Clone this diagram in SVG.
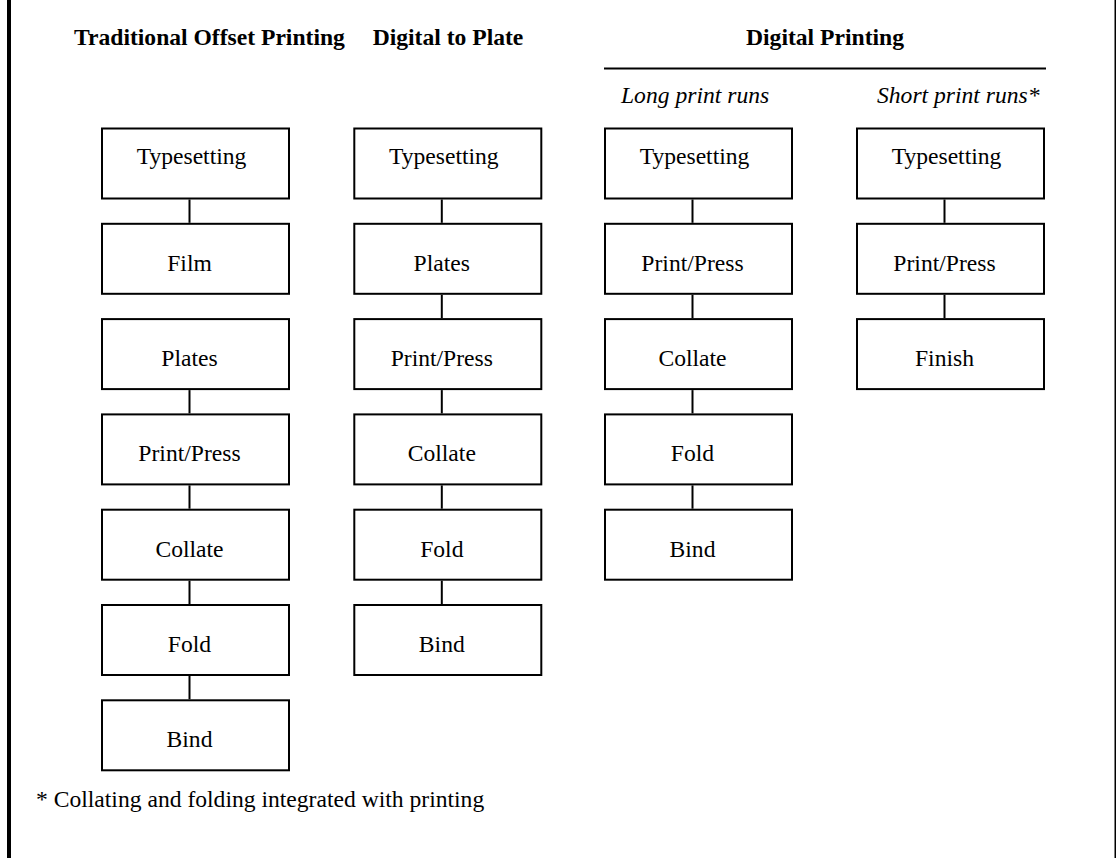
<svg xmlns="http://www.w3.org/2000/svg" width="1116" height="858" viewBox="0 0 1116 858">
  <style>
    .box { fill: #ffffff; stroke: #000000; stroke-width: 2; }
    .lbl { font-family: "Liberation Serif", "Times New Roman", serif; font-size: 23.6px; fill: #000000; text-anchor: middle; }
    .head { font-family: "Liberation Serif", "Times New Roman", serif; font-size: 23.6px; font-weight: bold; fill: #000000; }
    .sub { font-family: "Liberation Serif", "Times New Roman", serif; font-size: 23.6px; font-style: italic; fill: #000000; }
    .note { font-family: "Liberation Serif", "Times New Roman", serif; font-size: 23.6px; fill: #000000; }
    .link { stroke: #000000; stroke-width: 2; fill: none; }
  </style>

  <rect x="0" y="0" width="1116" height="858" fill="#ffffff"/>
  <!-- frame edges -->
  <rect x="7" y="0" width="4" height="858" fill="#000000"/>
  <rect x="1114.5" y="0" width="1.5" height="858" fill="#000000"/>

  <!-- column headings -->
  <g id="headings">
    <text class="head" x="74" y="45">Traditional Offset Printing</text>
    <text class="head" x="448" y="45" text-anchor="middle">Digital to Plate</text>
    <text class="head" x="825" y="45" text-anchor="middle">Digital Printing</text>
    <line x1="604" y1="68.5" x2="1046" y2="68.5" stroke="#000000" stroke-width="2"/>
    <text class="sub" x="621" y="103">Long print runs</text>
    <text class="sub" x="877" y="103">Short print runs*</text>
  </g>

  <!-- connectors -->
  <g id="connectors">
    <!-- traditional offset -->
    <line class="link" x1="189.5" y1="199.5" x2="189.5" y2="222.8"/>
    <line class="link" x1="189.5" y1="390.1" x2="189.5" y2="413.4"/>
    <line class="link" x1="189.5" y1="485.4" x2="189.5" y2="508.7"/>
    <line class="link" x1="189.5" y1="580.7" x2="189.5" y2="604"/>
    <line class="link" x1="189.5" y1="676" x2="189.5" y2="699.3"/>
    <!-- digital to plate -->
    <line class="link" x1="441.8" y1="199.5" x2="441.8" y2="222.8"/>
    <line class="link" x1="441.8" y1="294.8" x2="441.8" y2="318.1"/>
    <line class="link" x1="441.8" y1="390.1" x2="441.8" y2="413.4"/>
    <line class="link" x1="441.8" y1="485.4" x2="441.8" y2="508.7"/>
    <line class="link" x1="441.8" y1="580.7" x2="441.8" y2="604"/>
    <!-- digital, long runs -->
    <line class="link" x1="692.5" y1="199.5" x2="692.5" y2="222.8"/>
    <line class="link" x1="692.5" y1="294.8" x2="692.5" y2="318.1"/>
    <line class="link" x1="692.5" y1="390.1" x2="692.5" y2="413.4"/>
    <line class="link" x1="692.5" y1="485.4" x2="692.5" y2="508.7"/>
    <!-- digital, short runs -->
    <line class="link" x1="944.5" y1="199.5" x2="944.5" y2="222.8"/>
    <line class="link" x1="944.5" y1="294.8" x2="944.5" y2="318.1"/>
  </g>

  <!-- Traditional Offset Printing -->
  <g id="off-typesetting"><rect class="box" x="102" y="128.5" width="187" height="70"/><text class="lbl" x="191.5" y="164.2">Typesetting</text></g>
  <g id="off-film"><rect class="box" x="102" y="223.8" width="187" height="70"/><text class="lbl" x="189.5" y="270.8">Film</text></g>
  <g id="off-plates"><rect class="box" x="102" y="319.1" width="187" height="70"/><text class="lbl" x="189.5" y="366.1">Plates</text></g>
  <g id="off-print"><rect class="box" x="102" y="414.4" width="187" height="70"/><text class="lbl" x="189.5" y="461.4">Print/Press</text></g>
  <g id="off-collate"><rect class="box" x="102" y="509.7" width="187" height="70"/><text class="lbl" x="189.5" y="556.7">Collate</text></g>
  <g id="off-fold"><rect class="box" x="102" y="605" width="187" height="70"/><text class="lbl" x="189.5" y="652">Fold</text></g>
  <g id="off-bind"><rect class="box" x="102" y="700.3" width="187" height="70"/><text class="lbl" x="189.5" y="747.3">Bind</text></g>

  <!-- Digital to Plate -->
  <g id="dtp-typesetting"><rect class="box" x="354.3" y="128.5" width="187" height="70"/><text class="lbl" x="443.8" y="164.2">Typesetting</text></g>
  <g id="dtp-plates"><rect class="box" x="354.3" y="223.8" width="187" height="70"/><text class="lbl" x="441.8" y="270.8">Plates</text></g>
  <g id="dtp-print"><rect class="box" x="354.3" y="319.1" width="187" height="70"/><text class="lbl" x="441.8" y="366.1">Print/Press</text></g>
  <g id="dtp-collate"><rect class="box" x="354.3" y="414.4" width="187" height="70"/><text class="lbl" x="441.8" y="461.4">Collate</text></g>
  <g id="dtp-fold"><rect class="box" x="354.3" y="509.7" width="187" height="70"/><text class="lbl" x="441.8" y="556.7">Fold</text></g>
  <g id="dtp-bind"><rect class="box" x="354.3" y="605" width="187" height="70"/><text class="lbl" x="441.8" y="652">Bind</text></g>

  <!-- Digital Printing: long print runs -->
  <g id="long-typesetting"><rect class="box" x="605" y="128.5" width="187" height="70"/><text class="lbl" x="694.5" y="164.2">Typesetting</text></g>
  <g id="long-print"><rect class="box" x="605" y="223.8" width="187" height="70"/><text class="lbl" x="692.5" y="270.8">Print/Press</text></g>
  <g id="long-collate"><rect class="box" x="605" y="319.1" width="187" height="70"/><text class="lbl" x="692.5" y="366.1">Collate</text></g>
  <g id="long-fold"><rect class="box" x="605" y="414.4" width="187" height="70"/><text class="lbl" x="692.5" y="461.4">Fold</text></g>
  <g id="long-bind"><rect class="box" x="605" y="509.7" width="187" height="70"/><text class="lbl" x="692.5" y="556.7">Bind</text></g>

  <!-- Digital Printing: short print runs -->
  <g id="short-typesetting"><rect class="box" x="857" y="128.5" width="187" height="70"/><text class="lbl" x="946.5" y="164.2">Typesetting</text></g>
  <g id="short-print"><rect class="box" x="857" y="223.8" width="187" height="70"/><text class="lbl" x="944.5" y="270.8">Print/Press</text></g>
  <g id="short-finish"><rect class="box" x="857" y="319.1" width="187" height="70"/><text class="lbl" x="944.5" y="366.1">Finish</text></g>

  <!-- footnote -->
  <text class="note" x="36" y="807">* Collating and folding integrated with printing</text>
</svg>
